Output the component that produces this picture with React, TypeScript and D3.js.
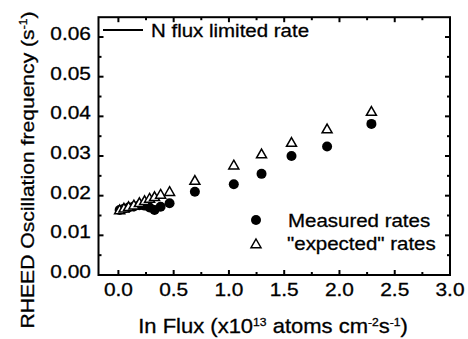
import React from "react";
import * as d3 from "d3";

const measuredFlux = [0.011, 0.05, 0.092, 0.14, 0.19, 0.237, 0.282, 0.327, 0.382, 0.463, 0.692, 1.044, 1.295, 1.566, 1.888, 2.289];
const measuredRate = [0.0164, 0.0167, 0.017, 0.0173, 0.0176, 0.0175, 0.017, 0.0164, 0.0172, 0.0181, 0.021, 0.0229, 0.0255, 0.03, 0.0324, 0.0381];
const expectedFlux = [0.011, 0.05, 0.092, 0.14, 0.19, 0.237, 0.282, 0.327, 0.382, 0.463, 0.692, 1.044, 1.295, 1.566, 1.888, 2.289];
const expectedRate = [0.0164, 0.0168, 0.0172, 0.0176, 0.0182, 0.0187, 0.0193, 0.0197, 0.0203, 0.021, 0.0238, 0.0277, 0.0305, 0.0334, 0.0368, 0.0412];
const xTicks = [0, 0.5, 1.0, 1.5, 2.0, 2.5, 3.0];
const yTicks = [0, 0.01, 0.02, 0.03, 0.04, 0.05, 0.06];

const FONT = "'Liberation Sans', Arial, Helvetica, sans-serif";
const SX = 1.1;

function T({ x, y, size, anchor, children }: any) {
  return (
    <text
      transform={`translate(${x},${y}) scale(${SX},1)`}
      fontSize={size}
      fontFamily={FONT}
      textAnchor={anchor || "start"}
      fill="#000"
      stroke="#000"
      strokeWidth={0.3}
    >
      {children}
    </text>
  );
}

export default function App() {
  const W = 468, H = 339;
  const L = 98.5, R = 450, TOP = 17.2, B = 275;
  const x = d3.scaleLinear().domain([-0.18, 3.0]).range([L, R]);
  const y = d3.scaleLinear().domain([0, 0.065]).range([B, TOP]);

  const xMinor = d3.range(0.25, 3.0, 0.5);
  const yMinor = d3.range(0.005, 0.065, 0.01);
  const major = 5, minor = 3;

  const tri = (cx: number, cy: number) => {
    const s = 5;
    return `M${cx},${cy - s}L${cx + s},${cy + s * 0.75}L${cx - s},${cy + s * 0.75}Z`;
  };

  return (
    <svg width={W} height={H} style={{ position: "absolute", left: 0, top: 0, background: "#fff" }}>
      <rect x={0} y={0} width={W} height={H} fill="#fff" />
      <g stroke="#000" strokeWidth={2}>
        {xTicks.map((t) => (
          <g key={"xt" + t}>
            <line x1={x(t)} x2={x(t)} y1={B} y2={B - major} />
            <line x1={x(t)} x2={x(t)} y1={TOP} y2={TOP + major} />
          </g>
        ))}
        {xMinor.map((t) => (
          <g key={"xm" + t}>
            <line x1={x(t)} x2={x(t)} y1={B} y2={B - minor} />
            <line x1={x(t)} x2={x(t)} y1={TOP} y2={TOP + minor} />
          </g>
        ))}
        {yTicks.map((t) => (
          <g key={"yt" + t}>
            <line x1={L} x2={L + major} y1={y(t)} y2={y(t)} />
            <line x1={R} x2={R - major} y1={y(t)} y2={y(t)} />
          </g>
        ))}
        {yMinor.map((t) => (
          <g key={"ym" + t}>
            <line x1={L} x2={L + minor} y1={y(t)} y2={y(t)} />
            <line x1={R} x2={R - minor} y1={y(t)} y2={y(t)} />
          </g>
        ))}
      </g>
      <rect x={L} y={TOP} width={R - L} height={B - TOP} fill="none" stroke="#000" strokeWidth={2} />

      {xTicks.map((t) => (
        <T key={"xl" + t} x={x(t)} y={296} size={19} anchor="middle">{t.toFixed(1)}</T>
      ))}
      {yTicks.map((t) => (
        <T key={"yl" + t} x={91} y={y(t) + 3} size={19} anchor="end">{t.toFixed(2)}</T>
      ))}

      <text transform={`translate(${273},${333}) scale(${SX},1)`} fontSize={20} fontFamily={FONT} textAnchor="middle" stroke="#000" strokeWidth={0.3}>
        In Flux (x10<tspan fontSize={11} dy={-7}>13</tspan><tspan dy={7}> atoms cm</tspan><tspan fontSize={11} dy={-7}>-2</tspan><tspan dy={7}>s</tspan><tspan fontSize={11} dy={-7}>-1</tspan><tspan dy={7}>)</tspan>
      </text>
      <text transform={`translate(${34},${170}) rotate(-90) scale(${SX},1)`} fontSize={19.2} fontFamily={FONT} textAnchor="middle" stroke="#000" strokeWidth={0.3}>
        RHEED Oscillation frequency (s<tspan fontSize={11} dy={-7}>-1</tspan><tspan dy={7}>)</tspan>
      </text>

      {measuredFlux.map((f, i) => (
        <circle key={"m" + i} cx={x(f)} cy={y(measuredRate[i])} r={5} fill="#000" />
      ))}
      {expectedFlux.map((f, i) => (
        <path key={"e" + i} d={tri(x(f), y(expectedRate[i]))} fill="#fff" stroke="#000" strokeWidth={1.5} />
      ))}

      <line x1={103} x2={143} y1={30} y2={30} stroke="#000" strokeWidth={2} />
      <T x={151} y={37} size={18.6}>N flux limited rate</T>
      <circle cx={256} cy={220} r={5} fill="#000" />
      <T x={288} y={226.7} size={18.6}>Measured rates</T>
      <path d={tri(256, 244)} fill="#fff" stroke="#000" strokeWidth={1.5} />
      <T x={287} y={250} size={18.6}>"expected" rates</T>
    </svg>
  );
}
